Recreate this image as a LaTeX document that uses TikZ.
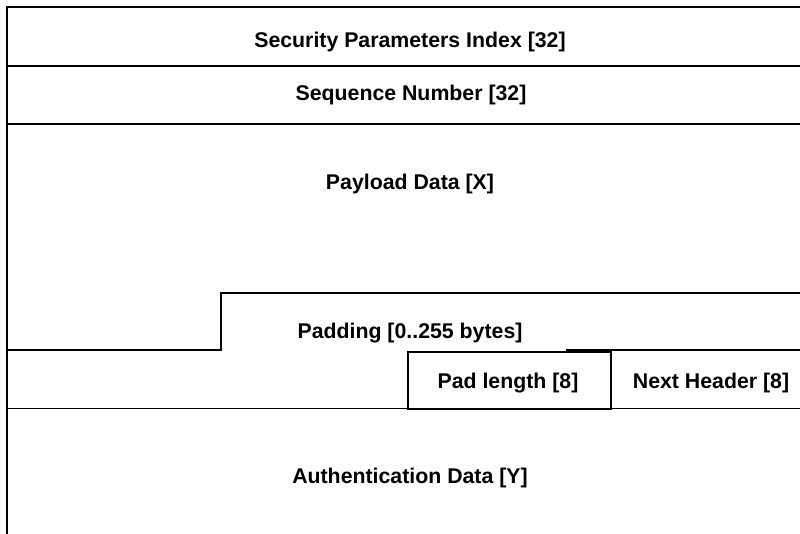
\documentclass[tikz,border=0pt]{standalone}
\usepackage{fontspec}
\setmainfont{Liberation Sans}
\begin{document}
\begin{tikzpicture}[x=1pt,y=-1pt,line width=1.7pt,
  lbl/.style={font=\fontsize{21.3}{25}\selectfont\bfseries, anchor=base, inner sep=0pt}]
\useasboundingbox (0,0) rectangle (800,534);
% frame and field separators
\draw (7,534) -- (7,7) -- (800,7);
\draw (7,66) -- (800,66);
\draw (7,124) -- (800,124);
\draw (7,350) -- (221,350) -- (221,293) -- (800,293);
\draw (566,350) -- (800,350);
\draw (408,352) rectangle (611,409);
\draw (7,408.5) -- (408,408.5);
\draw (611,408.5) -- (800,408.5);
% labels
\node[lbl] (spi) at (410,47.5) {Security Parameters Index [32]};
\node[lbl] (seq) at (411,100.5) {Sequence Number [32]};
\node[lbl] (pay) at (410,189.5) {Payload Data [X]};
\node[lbl] (pad) at (410,338) {Padding [0..255 bytes]};
\node[lbl] (padlen) at (508,388.5) {Pad length [8]};
\node[lbl] (nh) at (711,388.5) {Next Header [8]};
\node[lbl] (auth) at (410,483) {Authentication Data [Y]};
\end{tikzpicture}
\end{document}
